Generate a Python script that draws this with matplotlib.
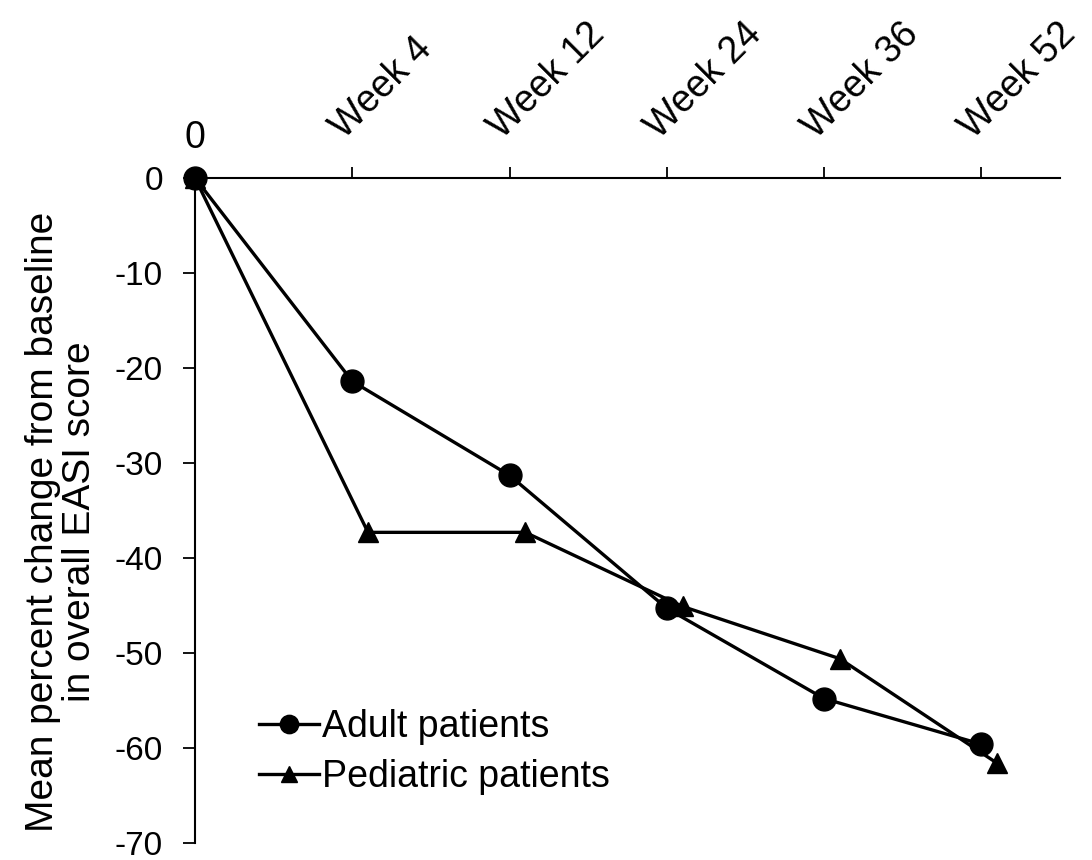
import matplotlib
matplotlib.use("Agg")
import matplotlib.pyplot as plt
import matplotlib.transforms as mtransforms
import numpy as np

plt.rcParams['font.family'] = ['Liberation Sans', 'DejaVu Sans']
plt.rcParams['axes.unicode_minus'] = False

categories = ["0", "Week 4", "Week 12", "Week 24", "Week 36", "Week 52"]
adult = [0, -21.4, -31.3, -45.3, -54.8, -59.6]
pediatric = [0, -37.3, -37.3, -45.1, -50.6, -61.6]
ped_offset = 0.1

fig = plt.figure(figsize=(10.92, 8.6), dpi=100)
ax = fig.add_axes([195/1092, 1-843/860, (1060-195)/1092, (843-178)/860])

x = np.arange(len(categories))
xp = x + np.where(x > 0, ped_offset, 0)

ax.plot(x, adult, color='black', lw=2.4, marker='o', ms=16.5, clip_on=False,
        zorder=4, label='Adult patients')
ax.plot(xp, pediatric, color='black', lw=2.4, marker='^', ms=15, clip_on=False,
        zorder=3, label='Pediatric patients')

ax.set_xlim(0, 5.5)
ax.set_ylim(-70, 0)
ax.spines['right'].set_visible(False)
ax.spines['bottom'].set_visible(False)
for s in ('top', 'left'):
    ax.spines[s].set_linewidth(1.5)

ax.xaxis.tick_top()
ax.set_xticks(x[1:])
ax.set_xticklabels([])
ax.tick_params(axis='x', direction='out', length=8, width=1.3)
ax.set_yticks(np.arange(-70, 1, 10))
ax.tick_params(axis='y', direction='out', length=9, width=1.3, labelsize=24, pad=14)

xt = ax.get_xaxis_transform()
for xi, lab in zip(x, categories):
    if xi == 0:
        off = mtransforms.ScaledTranslation(0, 22/100, fig.dpi_scale_trans)
        ax.text(xi, 1, lab, transform=xt + off, ha='center', va='bottom', fontsize=27)
    else:
        off = mtransforms.ScaledTranslation(-8/100, 38/100, fig.dpi_scale_trans)
        ax.text(xi, 1, lab, transform=xt + off, rotation=45, rotation_mode='anchor',
                ha='left', va='baseline', fontsize=27)

ax.set_ylabel("Mean percent change from baseline\nin overall EASI score", fontsize=28,
              linespacing=1.05)
ax.yaxis.set_label_coords(-0.112, 0.483)

ax.legend(loc='upper left', bbox_to_anchor=(240/1092, 1-690/860),
          bbox_transform=fig.transFigure, frameon=False, fontsize=27,
          handlelength=1.6, handletextpad=0.1, borderpad=0, labelspacing=0.38,
          markerscale=0.8)

fig.savefig("out.png", dpi=100)
